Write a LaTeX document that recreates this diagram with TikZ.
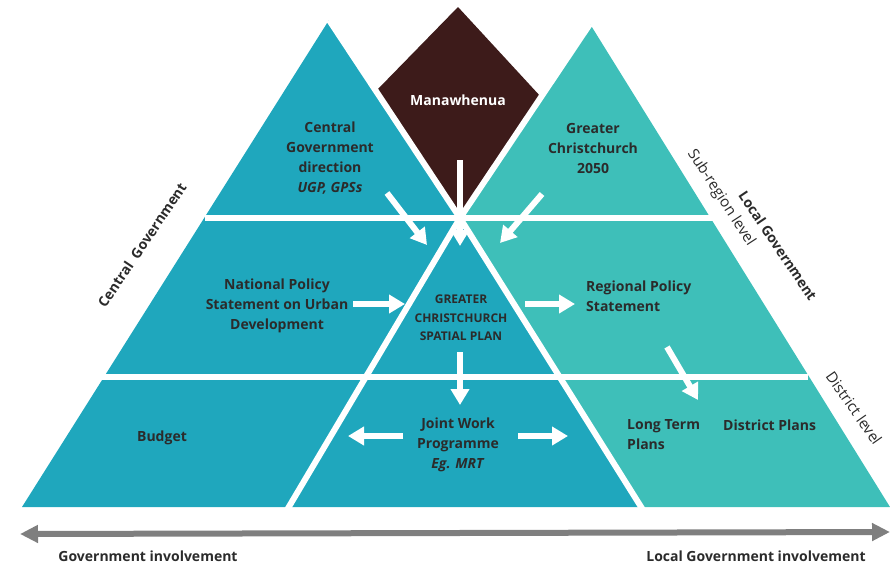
\documentclass[tikz,border=0pt]{standalone}
\usepackage{fontspec}
\setmainfont{Open Sans}
\usetikzlibrary{arrows.meta}
\definecolor{cblue}{HTML}{1FA7BD}
\definecolor{cteal}{HTML}{3EBFB9}
\definecolor{cbrown}{HTML}{3D1B1A}
\definecolor{ctext}{HTML}{2B2B2B}
\definecolor{cgray}{HTML}{7F7F7F}
\begin{document}
\begin{tikzpicture}[x=1pt,y=-1pt,
  lbl/.style={font=\fontsize{14}{20}\selectfont\bfseries, text=ctext, align=center, inner sep=0pt},
  lblsmall/.style={font=\fontsize{12}{18.5}\selectfont\bfseries, text=ctext, align=center, inner sep=0pt},
  sidelbl/.style={font=\fontsize{15}{20}\selectfont, text=ctext, inner sep=0pt},
  whiteline/.style={draw=white, line width=6pt},
  warr/.style={draw=white, line width=6pt, -{Triangle[length=16pt,width=18pt]}},
  garr/.style={draw=cgray, line width=6pt, {Triangle[length=18pt,width=17pt]}-{Triangle[length=18pt,width=17pt]}}]
\useasboundingbox (0,0) rectangle (890,565);
% key points
\coordinate (P) at (460,218);
\coordinate (LA) at (329,20);
\coordinate (LBL) at (22,507);
\coordinate (LBR) at (643,510);
\coordinate (RA) at (590,24);
\coordinate (RBR) at (890,507);
\coordinate (RBL) at (287,510);
% diamond
\fill[cbrown] (458,7) -- (377,90) -- (P) -- (541,97) -- cycle;
% triangles
\fill[cteal] (RA) -- (RBR) -- (643,507) -- (P) -- cycle;
\fill[cblue] (LA) -- (P) -- (643,507) -- (LBL) -- cycle;
% white separators
\draw[whiteline] (LA) -- (P) -- (LBR);
\draw[whiteline] (RA) -- (P) -- (RBL);
\draw[whiteline] (205,218) -- (713,218);
\draw[whiteline] (100,377) -- (808,377);
% arrow end points
\coordinate (a1s) at (387,193); \coordinate (a1e) at (427,245);
\coordinate (a2s) at (460,160); \coordinate (a2e) at (460,246);
\coordinate (a3s) at (542,194); \coordinate (a3e) at (500,243);
\coordinate (a4s) at (353,304); \coordinate (a4e) at (405,304);
\coordinate (a5s) at (525,304); \coordinate (a5e) at (575,304);
\coordinate (a6s) at (460,352); \coordinate (a6e) at (460,405);
\coordinate (a7s) at (403,436); \coordinate (a7e) at (348,436);
\coordinate (a8s) at (518,436); \coordinate (a8e) at (568,436);
\coordinate (a9s) at (667,347); \coordinate (a9e) at (698,400);
\draw[warr] (a1s) -- (a1e);
\draw[warr] (a2s) -- (a2e);
\draw[warr] (a3s) -- (a3e);
\draw[warr] (a4s) -- (a4e);
\draw[warr] (a5s) -- (a5e);
\draw[warr] (a6s) -- (a6e);
\draw[warr] (a7s) -- (a7e);
\draw[warr] (a8s) -- (a8e);
\draw[warr] (a9s) -- (a9e);
% bottom arrow
\coordinate (gl) at (20,534);
\coordinate (gr) at (890,532);
\draw[garr] (gl) -- (gr);
% texts
\node[lbl, text=white] (man) at (458,100) {Manawhenua};
\node[lbl] (cgd) at (330,158) {Central\\Government\\direction\\\textit{UGP, GPSs}};
\node[lbl] (gc) at (593,148) {Greater\\Christchurch\\2050};
\node[lbl] (nps) at (277,306) {National Policy\\Statement on Urban\\Development};
\node[lblsmall] (gcsp) at (461,318) {GREATER\\CHRISTCHURCH\\SPATIAL PLAN};
\node[lbl, align=left, anchor=west] (rps) at (586,296) {Regional Policy\\Statement};
\node[lbl] (bud) at (162,438) {Budget};
\node[lbl] (jwp) at (458,445) {Joint Work\\Programme\\\textit{Eg. MRT}};
\node[lbl, align=left, anchor=west] (ltp) at (627,435) {Long Term\\Plans};
\node[lbl, anchor=west] (dp) at (723,425) {District Plans};
\node[lbl] (gi) at (148,556) {Government involvement};
\node[lbl] (lgi) at (756,556) {Local Government involvement};
\node[lbl, rotate=56] (cg) at (142,245) {Central\ \ Government};
\node[lbl, rotate=-56] (lg) at (778,246) {Local Government};
\node[sidelbl, rotate=-57] (srl) at (721,198) {Sub-region level};
\node[sidelbl, rotate=-55] (dl) at (854,408) {District level};
\end{tikzpicture}
\end{document}
